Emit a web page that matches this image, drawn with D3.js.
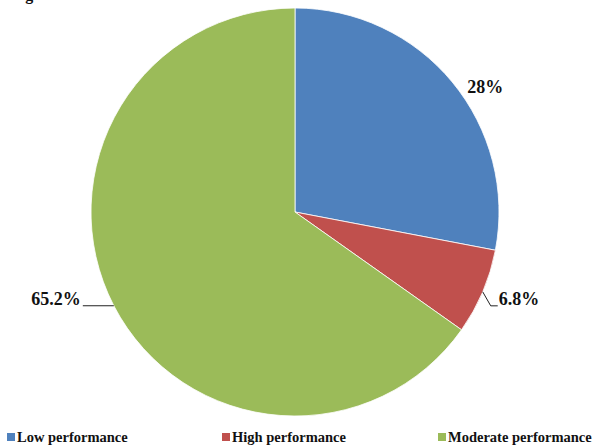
<!DOCTYPE html>
<html>
<head>
<meta charset="utf-8">
<script src="https://cdn.jsdelivr.net/npm/d3@7"></script>
<style>
  body { margin: 0; background: #fff; }
  svg { display: block; }
  text { font-family: "Liberation Serif", "Times New Roman", serif; font-weight: bold; fill: #111; }
</style>
</head>
<body>
<div id="chart"></div>
<script>
// chart data
var categories = [ "Low performance", "High performance", "Moderate performance" ];
var values = [ 28, 6.8, 65.2 ];
var valueLabels = [ "28%", "6.8%", "65.2%" ];
var colors = [ "#4F81BD", "#C0504D", "#9BBB59" ];

var width = 594,
  height = 446,
  cx = 295,
  cy = 212,
  radius = 204;

var svg = d3.select( "#chart" ).append( "svg" )
  .attr( "width", width )
  .attr( "height", height );

// cut-off caption at the top edge
svg.append( "text" )
  .attr( "x", 11 )
  .attr( "y", 0 )
  .style( "font-size", "16px" )
  .text( "Figure" );

var color = d3.scaleOrdinal().domain( categories ).range( colors );

var pie = d3.pie().sort( null ).value( function( d ) { return d.value; } );
var arcs = pie( categories.map( function( c, i ) {
  return { name: c, value: values[ i ], label: valueLabels[ i ] };
} ) );

var arc = d3.arc().innerRadius( 0 ).outerRadius( radius );
var rim = d3.arc().innerRadius( radius ).outerRadius( radius );

var g = svg.append( "g" ).attr( "transform", "translate(" + cx + "," + cy + ")" );

g.selectAll( "path.slice" )
  .data( arcs )
  .enter()
  .append( "path" )
    .attr( "class", "slice" )
    .attr( "d", arc )
    .style( "fill", function( d ) { return color( d.data.name ); } )
    .style( "stroke", "#fff" )
    .style( "stroke-width", 0.8 );

// label placement, relative to the point on the rim at the slice middle
function labelLayout( d, i ) {
  var p = rim.centroid( d );
  if ( i === 0 ) {
    return { line: null, x: p[ 0 ] + 15, y: p[ 1 ] + 11, anchor: "start" };
  }
  if ( i === 1 ) {
    var elbow = [ p[ 0 ] + 8, p[ 1 ] + 14 ];
    var end = [ elbow[ 0 ] + 7, elbow[ 1 ] ];
    return { line: [ p, elbow, end ], x: end[ 0 ] + 1, y: end[ 1 ] - 1, anchor: "start" };
  }
  var tail = [ p[ 0 ] - 31, p[ 1 ] ];
  return { line: [ p, tail ], x: tail[ 0 ] - 2, y: tail[ 1 ] - 1, anchor: "end" };
}

var labels = g.selectAll( "g.label" )
  .data( arcs )
  .enter()
  .append( "g" )
    .attr( "class", "label" );

labels.each( function( d, i ) {
  var l = labelLayout( d, i );
  var sel = d3.select( this );
  if ( l.line ) {
    sel.append( "path" )
      .attr( "d", d3.line()( l.line ) )
      .style( "fill", "none" )
      .style( "stroke", "#222" )
      .style( "stroke-width", 1 );
  }
  sel.append( "text" )
    .attr( "x", l.x )
    .attr( "y", l.y )
    .attr( "text-anchor", l.anchor )
    .style( "font-size", "18px" )
    .text( d.data.label );
} );

// legend
var legendX = [ 7, 222, 438 ];
var legend = svg.selectAll( "g.legend" )
  .data( categories )
  .enter()
  .append( "g" )
    .attr( "class", "legend" )
    .attr( "transform", function( d, i ) { return "translate(" + legendX[ i ] + ",433)"; } );

legend.append( "rect" )
  .attr( "width", 8 )
  .attr( "height", 8 )
  .style( "fill", function( d ) { return color( d ); } );

legend.append( "text" )
  .attr( "x", 10 )
  .attr( "y", 9 )
  .style( "font-size", "14.5px" )
  .text( function( d ) { return d; } );
</script>
</body>
</html>
